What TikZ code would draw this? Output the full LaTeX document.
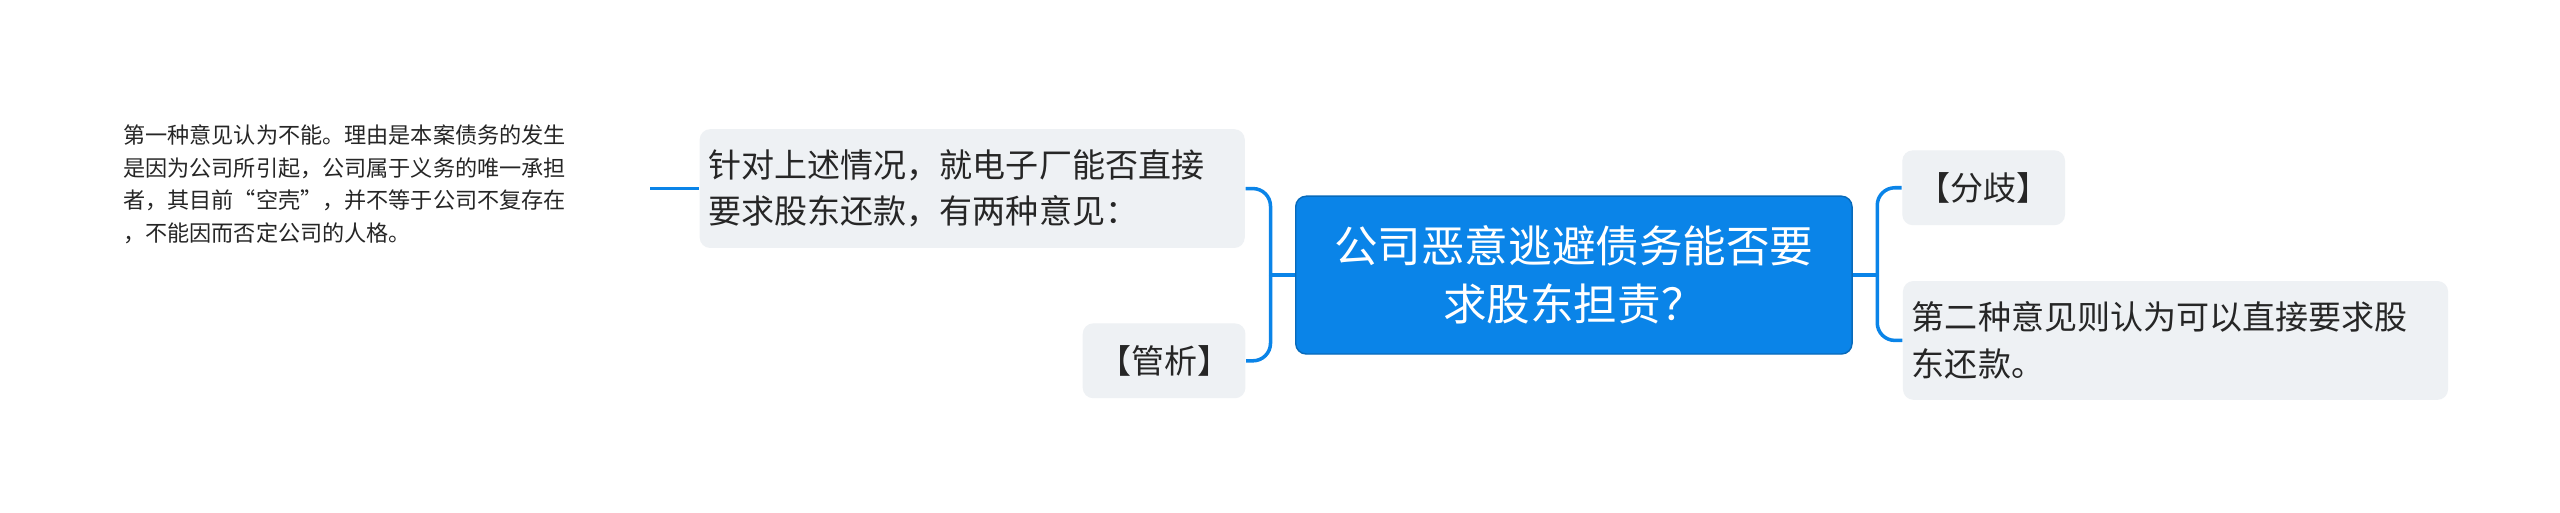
\documentclass[tikz,border=0pt]{standalone}
\usepackage{fontspec}
\setmainfont{Noto Sans CJK SC}
\definecolor{bl}{RGB}{10,132,232}
\definecolor{gb}{RGB}{238,241,244}
\begin{document}
\begin{tikzpicture}[x=0.01633cm,y=-0.01633cm,
  gbox/.style={fill=gb,rounded corners=3pt,inner sep=0pt,font=\fontsize{9.4}{13.2}\selectfont,text=black!85,align=left},
  conn/.style={draw=bl,line width=1pt,rounded corners=5pt}]
\useasboundingbox (0,0) rectangle (1568,314);
\path[fill=white] (0,0) rectangle (1568,314);
\node[fill=bl,draw=bl!80!black,rounded corners=3pt,minimum width=158.3pt,minimum height=44.9pt,inner sep=0pt,text=white,align=center,font=\fontsize{12.4}{16.5}\selectfont] (c) at (964,168.5) {公司恶意逃避债务能否要\\求股东担责？};
\node[gbox,minimum width=46.3pt,minimum height=21.3pt,align=center] (fq) at (1215,115) {【分歧】};
\node[gbox,minimum width=155.1pt,minimum height=33.8pt,text width=150pt] (de) at (1332.5,208.5) {第二种意见则认为可以直接要求股\\东还款。};
\node[gbox,minimum width=155.1pt,minimum height=33.8pt,text width=150pt] (zd) at (595.5,115.5) {针对上述情况，就电子厂能否直接\\要求股东还款，有两种意见：};
\node[gbox,minimum width=46.3pt,minimum height=21.3pt,align=center] (gx) at (713,221) {【管析】};
\node[align=left,inner sep=0pt,font=\fontsize{6.3}{9.3}\selectfont,text=black!85,anchor=north west] (yi) at (75,76) {第一种意见认为不能。理由是本案债务的发生\\是因为公司所引起，公司属于义务的唯一承担\\者，其目前“空壳”，并不等于公司不复存在\\，不能因而否定公司的人格。};
\coordinate (ye) at (398,115.5);
\draw[conn] (c.west) -- ++(-15,0) coordinate (lj);
\draw[conn] (lj) |- (zd.east);
\draw[conn] (lj) |- (gx.east);
\draw[conn] (c.east) -- ++(15,0) coordinate (rj);
\draw[conn] (rj) |- (fq.west);
\draw[conn] (rj) |- (de.west);
\draw[conn] (zd.west) -- (ye);
\end{tikzpicture}
\end{document}
